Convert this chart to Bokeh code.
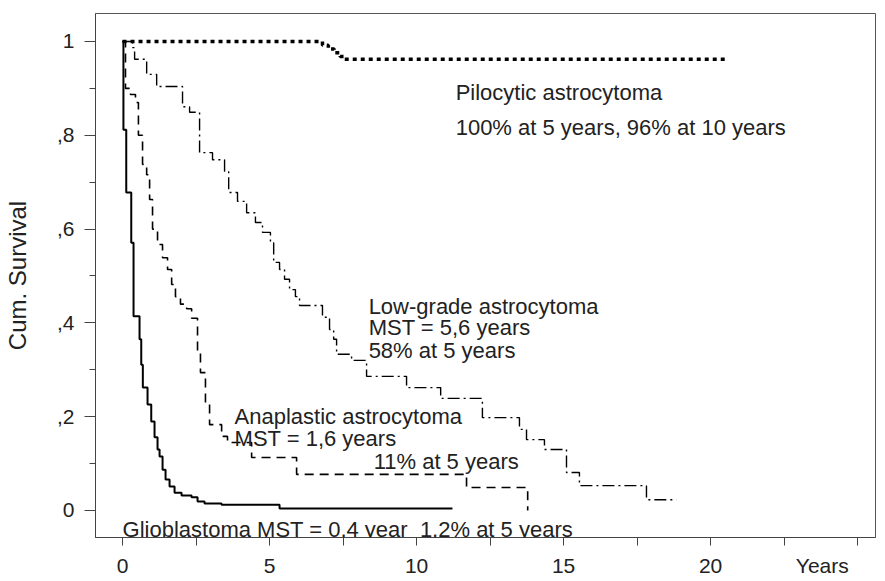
from bokeh.plotting import figure
from bokeh.models import Range1d, FixedTicker, Label
from bokeh.embed import file_html
from bokeh.resources import INLINE

# ---- data (Kaplan-Meier step curves) ----
years_ticks = [0, 5, 10, 15, 20, 23.8]
years_tick_labels = ["0", "5", "10", "15", "20", "Years"]
years_tick_marks = [0, 2.5, 5, 7.5, 10, 12.5, 15, 17.5, 20, 22.5, 25]
surv_ticks = [0, 0.2, 0.4, 0.6, 0.8, 1.0]
surv_tick_labels = ["0", ",2", ",4", ",6", ",8", "1"]

glio_t = [0, 0.03, 0.126, 0.296, 0.374, 0.578, 0.636, 0.690, 0.850, 0.976, 1.088, 1.190,
          1.259, 1.361, 1.463, 1.599, 1.769, 2.007, 2.347, 2.551, 2.789, 3.367, 5.34, 11.22]
glio_s = [1.0, 0.812, 0.678, 0.571, 0.414, 0.365, 0.311, 0.262, 0.226, 0.190, 0.156, 0.130,
          0.115, 0.087, 0.066, 0.051, 0.038, 0.032, 0.028, 0.019, 0.015, 0.012, 0.004, 0.004]

ana_t = [0, 0.10, 0.27, 0.44, 0.54, 0.68, 0.82, 0.92, 1.02, 1.19, 1.36, 1.53, 1.67, 1.80,
         1.97, 2.18, 2.35, 2.55, 2.65, 2.82, 2.96, 3.37, 3.57, 4.39, 5.92, 11.70, 13.78]
ana_s = [1.0, 0.900, 0.887, 0.870, 0.800, 0.738, 0.716, 0.663, 0.600, 0.567, 0.539, 0.514,
         0.482, 0.456, 0.440, 0.430, 0.410, 0.340, 0.294, 0.230, 0.183, 0.158, 0.145, 0.113,
         0.077, 0.049, 0.0]

low_t = [0, 0.34, 0.41, 0.82, 1.16, 2.04, 2.28, 2.62, 3.06, 3.47, 3.61, 3.91, 4.22, 4.52,
         4.76, 5.03, 5.14, 5.34, 5.51, 5.68, 5.88, 6.02, 6.80, 7.04, 7.18, 7.28, 7.79, 8.30,
         9.66, 10.82, 12.24, 13.50, 13.74, 14.35, 15.10, 15.54, 17.82, 18.84]
low_s = [1.0, 0.987, 0.962, 0.930, 0.904, 0.861, 0.849, 0.763, 0.748, 0.723, 0.678, 0.659,
         0.635, 0.614, 0.593, 0.571, 0.529, 0.514, 0.493, 0.471, 0.456, 0.437, 0.412, 0.386,
         0.365, 0.333, 0.320, 0.286, 0.262, 0.239, 0.198, 0.173, 0.151, 0.130, 0.081, 0.053,
         0.023, 0.023]

pilo_t = [0, 6.8, 7.0, 7.2, 7.4, 7.55, 20.5]
pilo_s = [1.0, 0.992, 0.984, 0.976, 0.968, 0.962, 0.962]

ann_text = ["Pilocytic astrocytoma",
            "100% at 5 years, 96% at 10 years",
            "Low-grade astrocytoma",
            "MST = 5,6 years",
            "58% at 5 years",
            "Anaplastic astrocytoma",
            "MST = 1,6 years",
            "11% at 5 years",
            "Glioblastoma MST = 0,4 year\u00a0 1,2% at 5 years"]

# ---- figure ----
FONT = "Liberation Sans"
p = figure(frame_width=780, frame_height=524, output_backend="svg", toolbar_location=None,
           x_range=Range1d(-0.92, 25.61), y_range=Range1d(-0.0576, 1.0597),
           min_border_left=88, min_border_right=1, min_border_top=13, min_border_bottom=41)
p.background_fill_color = "white"
p.border_fill_color = "white"
p.outline_line_color = "#555555"
p.outline_line_width = 1
p.xgrid.visible = False
p.ygrid.visible = False

xa = p.xaxis[0]
xa.ticker = FixedTicker(ticks=years_ticks, minor_ticks=years_tick_marks)
xa.major_label_overrides = dict(zip(years_ticks, years_tick_labels))
xa.major_tick_line_color = None
xa.major_tick_out = 8
xa.major_tick_in = 0
xa.minor_tick_out = 8
xa.minor_tick_in = 0
xa.major_label_standoff = 8

ya = p.yaxis[0]
ya.ticker = FixedTicker(ticks=surv_ticks, minor_ticks=[0.1, 0.3, 0.5, 0.7, 0.9])
ya.major_label_overrides = dict(zip(surv_ticks, surv_tick_labels))
ya.major_tick_out = 11
ya.major_tick_in = 0
ya.minor_tick_out = 6
ya.minor_tick_in = 0
ya.major_label_standoff = 10
ya.major_label_orientation = "horizontal"
ya.axis_label = "Cum. Survival"
ya.axis_label_standoff = 23
ya.major_tick_line_color = "#444444"

for ax in (xa, ya):
    ax.axis_line_color = "#444444"
    ax.minor_tick_line_color = "#444444"
    ax.major_label_text_font = FONT
    ax.major_label_text_font_size = "21px"
    ax.major_label_text_color = "#222222"
    ax.axis_label_text_font = FONT
    ax.axis_label_text_font_size = "24px"
    ax.axis_label_text_font_style = "normal"
    ax.axis_label_text_color = "#222222"

# ---- curves ----
p.step(glio_t, glio_s, mode="after", line_color="black", line_width=2)
p.step(ana_t, ana_s, mode="after", line_color="black", line_width=1.6, line_dash="9 6")
p.step(low_t, low_s, mode="after", line_color="black", line_width=1.4, line_dash="12 4 2 4")
p.step(pilo_t, pilo_s, mode="after", line_color="black", line_width=3.5, line_dash="4 4")

# ---- annotations ----
ann_pos = [(11.33, 0.891), (11.33, 0.817), (8.37, 0.435), (8.37, 0.390), (8.37, 0.341),
           (3.81, 0.200), (3.81, 0.154), (8.54, 0.104), (0.0, -0.0405)]
for txt, (ax_, ay_) in zip(ann_text, ann_pos):
    p.add_layout(Label(x=ax_, y=ay_, text=txt, text_font=FONT, text_font_size="22px",
                       text_color="#222222", text_baseline="alphabetic", text_align="left"))

open("out.html", "w").write(file_html(p, INLINE))
